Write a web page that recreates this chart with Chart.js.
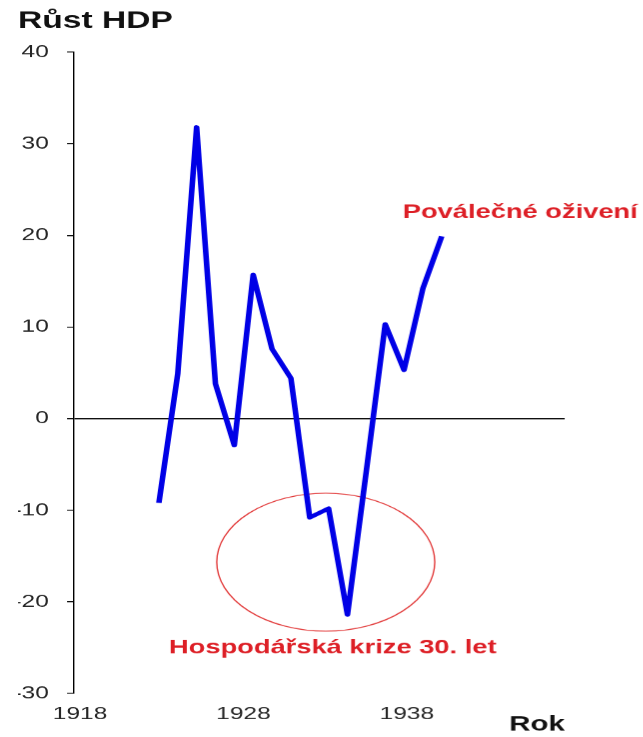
<!DOCTYPE html>
<html>
<head>
<meta charset="utf-8">
<script src="https://cdn.jsdelivr.net/npm/chart.js@4/dist/chart.umd.min.js"></script>
<style>
  html, body { margin: 0; padding: 0; background: #fff; overflow: hidden; }
  #wrap { width: 459.29px; height: 737px; transform: scaleX(1.4); transform-origin: 0 0; position: relative; }
</style>
</head>
<body>
<div id="wrap"><canvas id="c"></canvas></div>
<script>
// Data
const years = [1921, 1922, 1923, 1924, 1925, 1926, 1927, 1928, 1929, 1930, 1931, 1932, 1933, 1934, 1935, 1936];
const growth = [-9.2, 4.9, 31.8, 3.8, -2.9, 15.7, 7.6, 4.4, -10.8, -9.8, -21.4, -5.7, 10.3, 5.3, 14.2, 19.9];
const xTickYears = [1918, 1928, 1938];
const yTitle = 'Růst HDP';
const xTitle = 'Rok';
const noteRecovery = 'Poválečné oživení';
const noteCrisis = 'Hospodářská krize 30. let';

Chart.defaults.font.family = '"Liberation Sans", Arial, sans-serif';

const annot = {
  id: 'annot',
  beforeDatasetsDraw(chart) {
    const { ctx, scales: { x, y } } = chart;
    const cx = x.getPixelForValue(1929.85), cy = y.getPixelForValue(-15.66);
    const rx = x.getPixelForValue(1929.85 + 5.78) - cx;
    const ry = y.getPixelForValue(-15.66) - y.getPixelForValue(-15.66 + 7.53);
    ctx.save();
    ctx.beginPath();
    ctx.ellipse(cx, cy, rx, ry, 0, 0, Math.PI * 2);
    ctx.strokeStyle = '#e23b3b';
    ctx.lineWidth = 1;
    ctx.stroke();
    ctx.restore();
  },
  afterDatasetsDraw(chart) {
    const { ctx, scales: { x, y } } = chart;
    ctx.save();
    ctx.fillStyle = '#dd1f26';
    ctx.font = 'bold 19.5px "Liberation Sans", Arial, sans-serif';
    ctx.textBaseline = 'middle';
    ctx.textAlign = 'left';
    ctx.fillText(noteRecovery, x.getPixelForValue(1933.93), y.getPixelForValue(22.5));
    ctx.textAlign = 'center';
    ctx.fillText(noteCrisis, x.getPixelForValue(1930.22), y.getPixelForValue(-25.0));
    ctx.restore();
  }
};

new Chart(document.getElementById('c'), {
  type: 'line',
  data: {
    datasets: [{
      data: years.map((yr, i) => ({ x: yr, y: growth[i] })),
      xAxisID: 'x',
      yAxisID: 'y',
      borderColor: '#0000e6',
      borderWidth: 4,
      borderJoinStyle: 'round',
      pointRadius: 0,
      tension: 0,
      fill: false
    }]
  },
  options: {
    responsive: true,
    maintainAspectRatio: false,
    devicePixelRatio: 1.4,
    animation: false,
    layout: { padding: { left: 12.9, right: 55.7, top: 0, bottom: 0 } },
    plugins: {
      legend: { display: false },
      tooltip: { enabled: false },
      title: {
        display: true,
        text: yTitle,
        align: 'start',
        color: '#111',
        font: { size: 24, weight: 'bold' },
        padding: { top: 6.6, bottom: 16.6 }
      }
    },
    scales: {
      x: { type: 'linear', display: false, min: 1916.5, max: 1942.52 },
      xt: {
        type: 'linear',
        position: 'bottom',
        min: 1917.633,
        max: 1947.66,
        afterBuildTicks: s => { s.ticks = xTickYears.map(v => ({ value: v })); },
        afterFit: s => { s.height = 44; },
        ticks: { callback: v => String(v), font: { size: 17.5 }, color: '#262626', padding: 10, maxRotation: 0, autoSkip: false },
        grid: { display: false, drawTicks: false },
        border: { display: false },
        title: { display: true, text: xTitle, align: 'end', color: '#111', font: { size: 21, weight: 'bold' }, padding: { top: 0, bottom: 0 } }
      },
      y: {
        type: 'linear',
        min: -30,
        max: 40,
        afterFit: s => { s.width = 40; },
        ticks: { stepSize: 10, font: { size: 17.5 }, color: '#262626', padding: 13 },
        grid: {
          color: c => (c.tick && c.tick.value === 0) ? '#000' : 'rgba(0,0,0,0)',
          tickColor: '#000',
          tickLength: 5,
          lineWidth: 1
        },
        border: { display: true, color: '#000', width: 1 }
      }
    }
  },
  plugins: [annot]
});
</script>
</body>
</html>
